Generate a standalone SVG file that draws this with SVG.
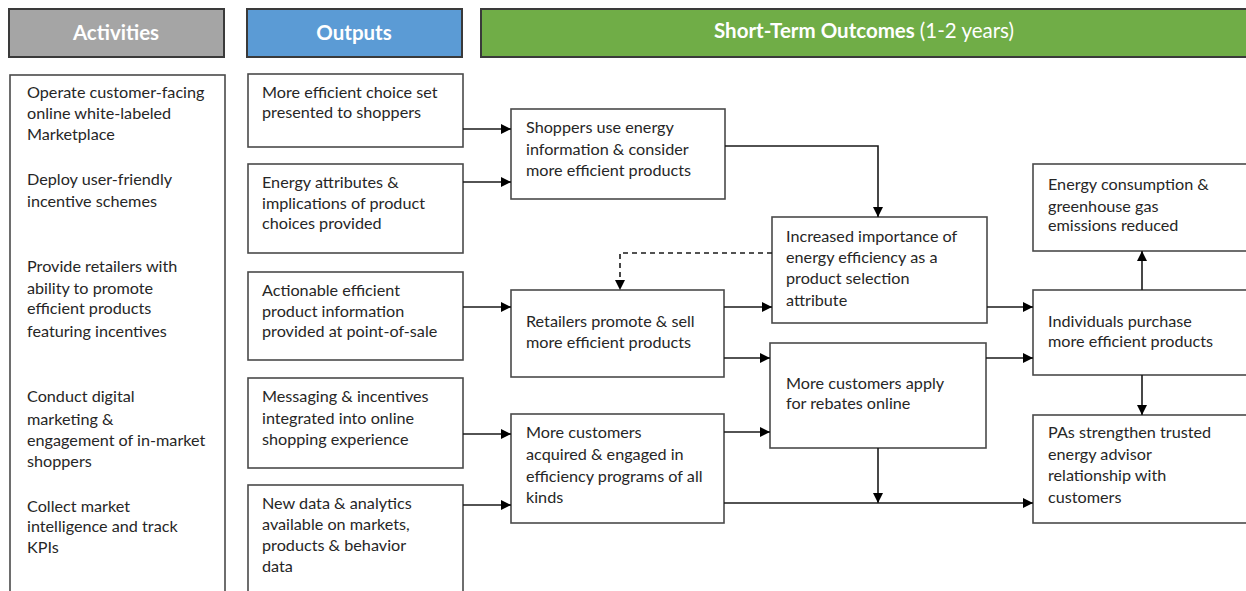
<svg xmlns="http://www.w3.org/2000/svg" width="1246" height="591" viewBox="0 0 1246 591">
  <style>
    .hdr { stroke: #3a3a3a; stroke-width: 2; }
    .box { fill: #ffffff; stroke: #4a4a4a; stroke-width: 1.6; }
    .t { font-family: Lato, "Noto Sans", sans-serif; font-size: 16.2px; fill: #262626; }
    .h { font-family: Lato, "Noto Sans", sans-serif; font-size: 20.5px; font-weight: bold; fill: #ffffff; text-anchor: middle; }
    .ln { fill: none; stroke: #1a1a1a; stroke-width: 1.6; marker-end: url(#arr); }
    .dash { stroke-dasharray: 5 4; }
  </style>
  <defs>
    <marker id="arr" viewBox="0 0 10 10" refX="10" refY="5" markerWidth="10" markerHeight="10" markerUnits="userSpaceOnUse" orient="auto">
      <path d="M0,0 L10,5 L0,10 Z" fill="#000"/>
    </marker>
  </defs>
  <rect width="1246" height="591" fill="#ffffff"/>

  <!-- column headers -->
  <g id="hdr-activities">
    <rect class="hdr" x="9" y="9" width="215" height="48" fill="#a5a5a5"/>
    <text class="h" x="116" y="40">Activities</text>
  </g>
  <g id="hdr-outputs">
    <rect class="hdr" x="247" y="9" width="215" height="48" fill="#5b9bd5"/>
    <text class="h" x="354" y="40">Outputs</text>
  </g>
  <g id="hdr-outcomes">
    <rect class="hdr" x="481" y="9" width="770" height="48" fill="#70ad47"/>
    <text class="h" x="864" y="38">Short-Term Outcomes <tspan font-weight="normal">(1-2 years)</tspan></text>
  </g>

  <!-- activities -->
  <g id="activities">
    <rect class="box" x="10" y="75" width="215" height="525"/>
    <text class="t" x="27" y="98">Operate customer-facing</text>
    <text class="t" x="27" y="119">online white-labeled</text>
    <text class="t" x="27" y="140">Marketplace</text>
    <text class="t" x="27" y="185">Deploy user-friendly</text>
    <text class="t" x="27" y="207">incentive schemes</text>
    <text class="t" x="27" y="272">Provide retailers with</text>
    <text class="t" x="27" y="294">ability to promote</text>
    <text class="t" x="27" y="314">efficient products</text>
    <text class="t" x="27" y="337">featuring incentives</text>
    <text class="t" x="27" y="402">Conduct digital</text>
    <text class="t" x="27" y="425">marketing &amp;</text>
    <text class="t" x="27" y="446">engagement of in-market</text>
    <text class="t" x="27" y="467">shoppers</text>
    <text class="t" x="27" y="512">Collect market</text>
    <text class="t" x="27" y="532">intelligence and track</text>
    <text class="t" x="27" y="553">KPIs</text>
  </g>

  <!-- outputs -->
  <g id="out-choice">
    <rect class="box" x="248" y="74" width="215" height="73"/>
    <text class="t" x="262" y="98">More efficient choice set</text>
    <text class="t" x="262" y="118">presented to shoppers</text>
  </g>
  <g id="out-attributes">
    <rect class="box" x="248" y="164" width="215" height="89"/>
    <text class="t" x="262" y="188">Energy attributes &amp;</text>
    <text class="t" x="262" y="209">implications of product</text>
    <text class="t" x="262" y="229">choices provided</text>
  </g>
  <g id="out-pos">
    <rect class="box" x="248" y="272" width="215" height="88"/>
    <text class="t" x="262" y="296">Actionable efficient</text>
    <text class="t" x="262" y="317">product information</text>
    <text class="t" x="262" y="337">provided at point-of-sale</text>
  </g>
  <g id="out-messaging">
    <rect class="box" x="248" y="378" width="215" height="90"/>
    <text class="t" x="262" y="402">Messaging &amp; incentives</text>
    <text class="t" x="262" y="424">integrated into online</text>
    <text class="t" x="262" y="445">shopping experience</text>
  </g>
  <g id="out-data">
    <rect class="box" x="248" y="485" width="215" height="115"/>
    <text class="t" x="262" y="509">New data &amp; analytics</text>
    <text class="t" x="262" y="530">available on markets,</text>
    <text class="t" x="262" y="551">products &amp; behavior</text>
    <text class="t" x="262" y="572">data</text>
  </g>

  <!-- short-term outcomes -->
  <g id="oc-shoppers">
    <rect class="box" x="511" y="109" width="214" height="90"/>
    <text class="t" x="526" y="133">Shoppers use energy</text>
    <text class="t" x="526" y="155">information &amp; consider</text>
    <text class="t" x="526" y="176">more efficient products</text>
  </g>
  <g id="oc-retailers">
    <rect class="box" x="511" y="290" width="213" height="87"/>
    <text class="t" x="526" y="327">Retailers promote &amp; sell</text>
    <text class="t" x="526" y="348">more efficient products</text>
  </g>
  <g id="oc-acquired">
    <rect class="box" x="511" y="414" width="213" height="109"/>
    <text class="t" x="526" y="438">More customers</text>
    <text class="t" x="526" y="460">acquired &amp; engaged in</text>
    <text class="t" x="526" y="482">efficiency programs of all</text>
    <text class="t" x="526" y="503">kinds</text>
  </g>
  <g id="oc-importance">
    <rect class="box" x="772" y="217" width="215" height="106"/>
    <text class="t" x="786" y="242">Increased importance of</text>
    <text class="t" x="786" y="263">energy efficiency as a</text>
    <text class="t" x="786" y="284">product selection</text>
    <text class="t" x="786" y="306">attribute</text>
  </g>
  <g id="oc-rebates">
    <rect class="box" x="770" y="343" width="216" height="105"/>
    <text class="t" x="786" y="389">More customers apply</text>
    <text class="t" x="786" y="409">for rebates online</text>
  </g>
  <g id="oc-energy">
    <rect class="box" x="1033" y="164" width="220" height="87"/>
    <text class="t" x="1048" y="190">Energy consumption &amp;</text>
    <text class="t" x="1048" y="212">greenhouse gas</text>
    <text class="t" x="1048" y="231">emissions reduced</text>
  </g>
  <g id="oc-purchase">
    <rect class="box" x="1033" y="290" width="220" height="85"/>
    <text class="t" x="1048" y="327">Individuals purchase</text>
    <text class="t" x="1048" y="347">more efficient products</text>
  </g>
  <g id="oc-advisor">
    <rect class="box" x="1033" y="415" width="220" height="108"/>
    <text class="t" x="1048" y="438">PAs strengthen trusted</text>
    <text class="t" x="1048" y="460">energy advisor</text>
    <text class="t" x="1048" y="481">relationship with</text>
    <text class="t" x="1048" y="503">customers</text>
  </g>

  <!-- connectors -->
  <g id="connectors">
    <path class="ln" d="M463,129 H511"/>
    <path class="ln" d="M463,182 H511"/>
    <path class="ln" d="M463,307 H511"/>
    <path class="ln" d="M463,434 H511"/>
    <path class="ln" d="M463,505 H511"/>
    <path class="ln" d="M725,146 H878 V217"/>
    <path class="ln dash" d="M772,253 H620 V290"/>
    <path class="ln" d="M724,307 H772"/>
    <path class="ln" d="M724,358 H770"/>
    <path class="ln" d="M724,432 H770"/>
    <path class="ln" d="M987,307 H1033"/>
    <path class="ln" d="M986,358 H1033"/>
    <path class="ln" d="M1142,290 V251"/>
    <path class="ln" d="M1142,375 V415"/>
    <path class="ln" d="M878,448 V503"/>
    <path class="ln" d="M724,503 H1033"/>
  </g>
</svg>
